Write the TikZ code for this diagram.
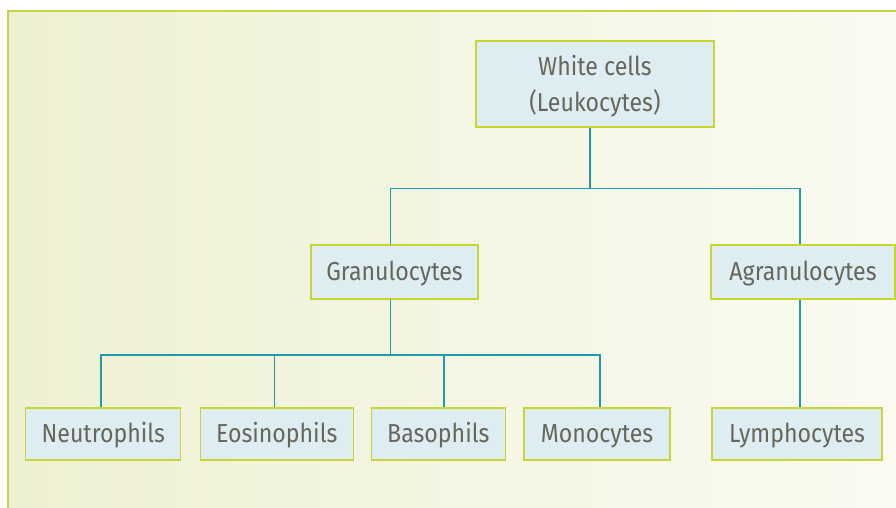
\documentclass[tikz,border=0pt]{standalone}
\usepackage{fontspec}
\setmainfont{Fira Sans}[FakeStretch=0.89]
\definecolor{boxfill}{HTML}{DDEDF1}
\definecolor{boxline}{HTML}{C9D531}
\definecolor{conn}{HTML}{1C9BAD}
\definecolor{txt}{HTML}{67665A}
\definecolor{bgL}{HTML}{EEF0D3}
\definecolor{bgR}{HTML}{FAFAF1}
\definecolor{frame}{HTML}{C6D348}
\tikzset{
  cellbox/.style={draw=boxline, fill=boxfill, line width=1.3pt, text=txt,
    font=\fontsize{26}{36}\selectfont, inner sep=0pt, align=center, anchor=center,
    text height=17.9pt, text depth=0pt},
  link/.style={draw=conn, line width=1.2pt}
}
\begin{document}
\begin{tikzpicture}[x=1pt,y=-1pt]
\useasboundingbox (0,0) rectangle (896,508);
\shade[left color=bgL,right color=bgR] (8,11) rectangle (896,508);
\draw[frame, line width=1.4pt] (8,508) -- (8,11) -- (896,11);

\node[cellbox, minimum width=238pt, minimum height=86pt] (white) at (595,84) {};
\node[text=txt, font=\fontsize{26}{36}\selectfont, inner sep=0pt, align=center, anchor=center] (whitetxt) at (595,86.5) {White cells\\(Leukocytes)};
\node[cellbox, minimum width=167pt, minimum height=54pt] (gran) at (394.5,272) {Granulocytes};
\node[cellbox, minimum width=184pt, minimum height=54pt] (agran) at (803,272) {Agranulocytes};
\node[cellbox, minimum width=155pt, minimum height=52pt] (neut) at (103.3,434) {Neutrophils};
\node[cellbox, minimum width=153pt, minimum height=52pt] (eos) at (276.7,434) {Eosinophils};
\node[cellbox, minimum width=134pt, minimum height=52pt] (baso) at (438.3,434) {Basophils};
\node[cellbox, minimum width=146pt, minimum height=52pt] (mono) at (597,434) {Monocytes};
\node[cellbox, minimum width=170pt, minimum height=52pt] (lymph) at (797,434) {Lymphocytes};

\coordinate (t1) at (590,188.5);
\coordinate (t2) at (390.5,355);

\draw[link] ([xshift=-5pt]white.south) -- (t1);
\draw[link] ([xshift=-4pt]gran.north) |- (t1);
\draw[link] (t1) -| ([xshift=-3pt]agran.north);
\draw[link] ([xshift=-4pt]gran.south) -- (t2);
\draw[link] ([xshift=-2.3pt]neut.north) |- (t2);
\draw[link] (t2) -| ([xshift=3pt]mono.north);
\draw[link] ([xshift=-2pt]eos.north) -- ([xshift=-2pt]eos.north |- t2);
\draw[link] ([xshift=5.7pt]baso.north) -- ([xshift=5.7pt]baso.north |- t2);
\draw[link] ([xshift=-3pt]agran.south) -- ([xshift=3pt]lymph.north);
\end{tikzpicture}
\end{document}
